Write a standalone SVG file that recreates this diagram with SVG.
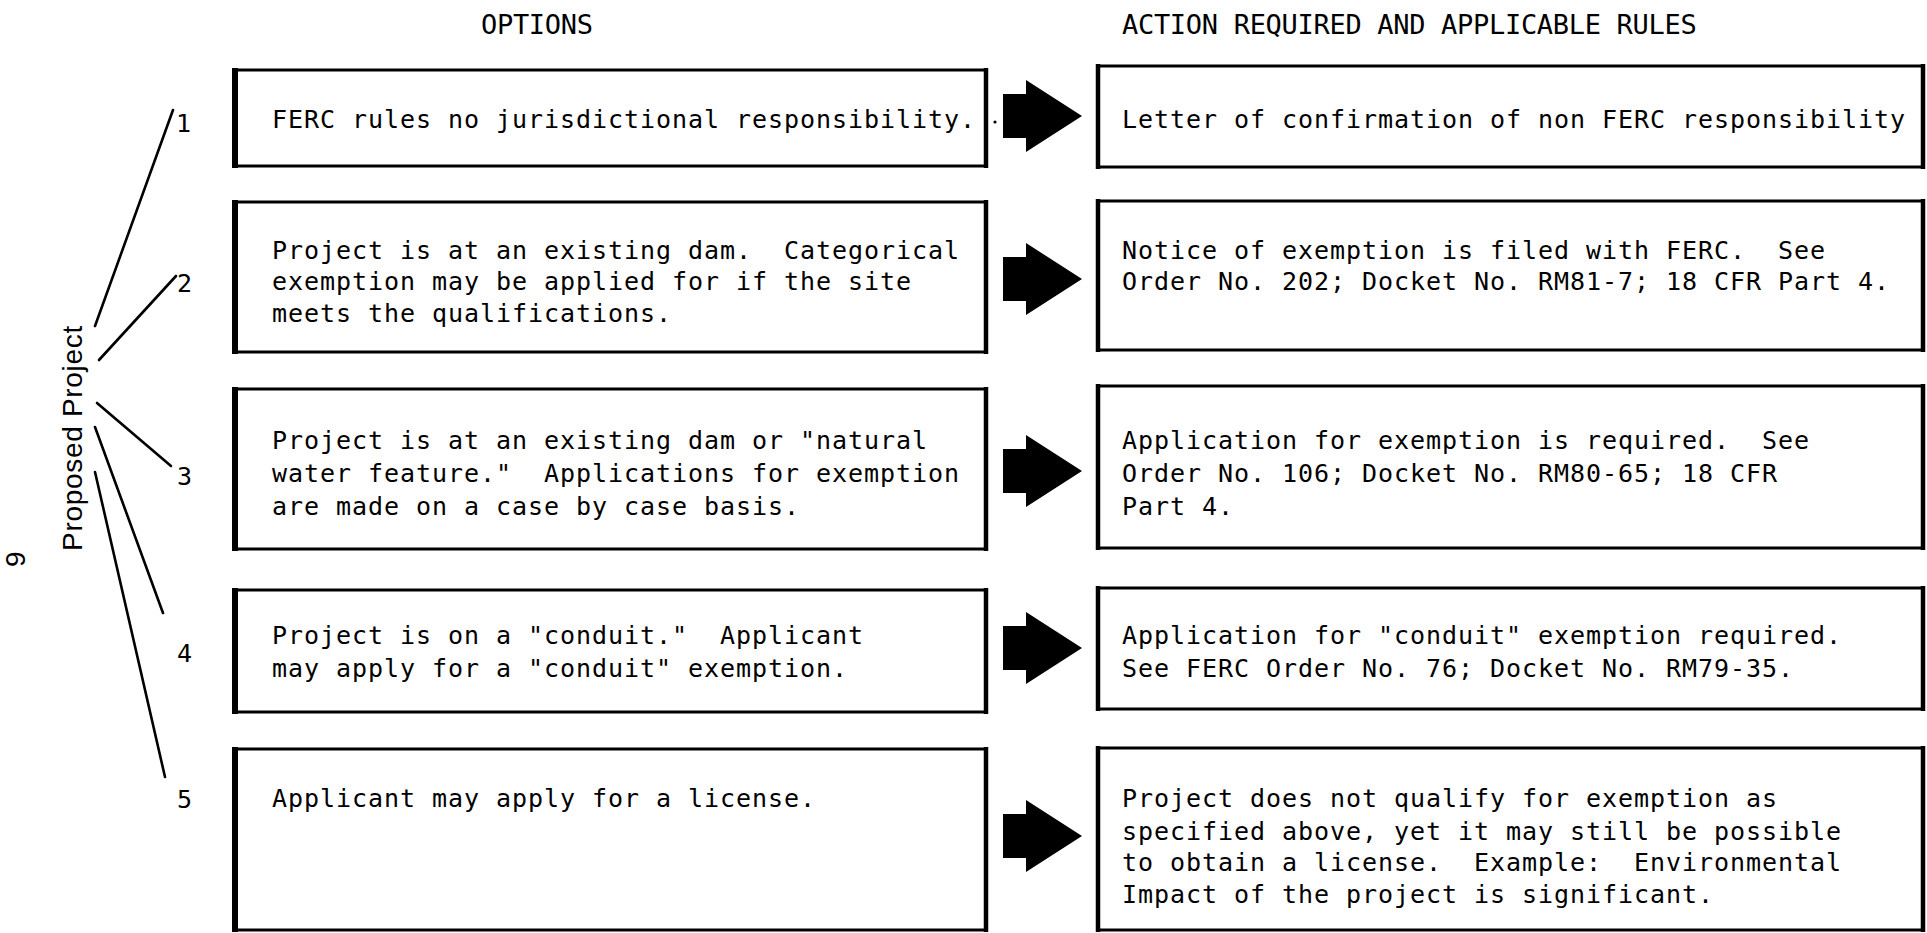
<svg xmlns="http://www.w3.org/2000/svg" xmlns:xlink="http://www.w3.org/1999/xlink" width="1927" height="933" viewBox="0 0 1927 933">
<style>
  .frame { fill: none; stroke: #000; stroke-width: 3; }
  .thickL { stroke: #000; stroke-width: 6; }
  .thickR { stroke: #000; stroke-width: 4.5; }
  .t { font-family: "DejaVu Sans Mono", "Liberation Mono", monospace; font-size: 25px; letter-spacing: 0.95px; fill: #000; white-space: pre; }
  .hdr { font-family: "DejaVu Sans Mono", "Liberation Mono", monospace; font-size: 27px; letter-spacing: -0.3px; fill: #000; white-space: pre; }
  .lbl { font-family: "Liberation Sans", Arial, sans-serif; font-size: 28px; letter-spacing: 0.7px; fill: #000; }
  .conn { stroke: #000; stroke-width: 2.6; stroke-linecap: round; fill: none; }
</style>
<defs>
  <path id="arrow" d="M1003,-22 L1026,-22 L1026,-36 L1082,0 L1026,36 L1026,22 L1003,22 Z" fill="#000"/>
</defs>
<rect width="1927" height="933" fill="#fff"/>

<g id="headers">
  <text class="hdr" x="481" y="34">OPTIONS</text>
  <text class="hdr" x="1122" y="34">ACTION REQUIRED AND APPLICABLE RULES</text>
</g>

<g id="proposed-project">
  <text class="lbl" transform="translate(82,551) rotate(-90)">Proposed Project</text>
</g>
<g id="page-number">
  <text class="lbl" font-size="24" transform="translate(25,567) rotate(-90)">9</text>
</g>

<g id="connectors">
  <line class="conn" x1="95" y1="326" x2="173" y2="110"/>
  <line class="conn" x1="99" y1="360" x2="176" y2="276"/>
  <line class="conn" x1="97" y1="403" x2="171" y2="466"/>
  <line class="conn" x1="95" y1="427" x2="163" y2="613"/>
  <line class="conn" x1="95" y1="472" x2="165" y2="777"/>
  <circle cx="995" cy="122" r="1.6" fill="#000"/>
  <use xlink:href="#arrow" href="#arrow" transform="translate(0,116)"/>
  <use xlink:href="#arrow" href="#arrow" transform="translate(0,279)"/>
  <use xlink:href="#arrow" href="#arrow" transform="translate(0,471)"/>
  <use xlink:href="#arrow" href="#arrow" transform="translate(0,648)"/>
  <use xlink:href="#arrow" href="#arrow" transform="translate(0,836)"/>
</g>

<g id="numbers">
  <text class="t" x="176" y="132">1</text>
  <text class="t" x="177" y="292">2</text>
  <text class="t" x="177" y="485">3</text>
  <text class="t" x="177" y="662">4</text>
  <text class="t" x="177" y="808">5</text>
</g>

<!-- Option boxes -->
<g id="option-1">
  <rect class="frame" x="235" y="70" width="751" height="96"/>
  <line class="thickL" x1="235" y1="68" x2="235" y2="168"/>
  <line class="thickR" x1="986" y1="68" x2="986" y2="168"/>
  <text class="t" x="272" y="128">FERC rules no jurisdictional responsibility.</text>
</g>
<g id="option-2">
  <rect class="frame" x="235" y="202" width="751" height="150"/>
  <line class="thickL" x1="235" y1="200" x2="235" y2="354"/>
  <line class="thickR" x1="986" y1="200" x2="986" y2="354"/>
  <text class="t" x="272" y="259">Project is at an existing dam.  Categorical</text>
  <text class="t" x="272" y="290">exemption may be applied for if the site</text>
  <text class="t" x="272" y="322">meets the qualifications.</text>
</g>
<g id="option-3">
  <rect class="frame" x="235" y="389" width="751" height="160"/>
  <line class="thickL" x1="235" y1="387" x2="235" y2="551"/>
  <line class="thickR" x1="986" y1="387" x2="986" y2="551"/>
  <text class="t" x="272" y="449">Project is at an existing dam or "natural</text>
  <text class="t" x="272" y="482">water feature."  Applications for exemption</text>
  <text class="t" x="272" y="515">are made on a case by case basis.</text>
</g>
<g id="option-4">
  <rect class="frame" x="235" y="590" width="751" height="122"/>
  <line class="thickL" x1="235" y1="588" x2="235" y2="714"/>
  <line class="thickR" x1="986" y1="588" x2="986" y2="714"/>
  <text class="t" x="272" y="644">Project is on a "conduit."  Applicant</text>
  <text class="t" x="272" y="677">may apply for a "conduit" exemption.</text>
</g>
<g id="option-5">
  <rect class="frame" x="235" y="749" width="751" height="181"/>
  <line class="thickL" x1="235" y1="747" x2="235" y2="932"/>
  <line class="thickR" x1="986" y1="747" x2="986" y2="932"/>
  <text class="t" x="272" y="807">Applicant may apply for a license.</text>
</g>

<!-- Action boxes -->
<g id="action-1">
  <rect class="frame" x="1098" y="66" width="825" height="101"/>
  <line class="thickR" x1="1098" y1="64" x2="1098" y2="169"/>
  <line class="thickR" x1="1923" y1="64" x2="1923" y2="169"/>
  <text class="t" x="1122" y="128">Letter of confirmation of non FERC responsibility</text>
</g>
<g id="action-2">
  <rect class="frame" x="1098" y="201" width="825" height="149"/>
  <line class="thickR" x1="1098" y1="199" x2="1098" y2="352"/>
  <line class="thickR" x1="1923" y1="199" x2="1923" y2="352"/>
  <text class="t" x="1122" y="259">Notice of exemption is filed with FERC.  See</text>
  <text class="t" x="1122" y="290">Order No. 202; Docket No. RM81-7; 18 CFR Part 4.</text>
</g>
<g id="action-3">
  <rect class="frame" x="1098" y="386" width="825" height="162"/>
  <line class="thickR" x1="1098" y1="384" x2="1098" y2="550"/>
  <line class="thickR" x1="1923" y1="384" x2="1923" y2="550"/>
  <text class="t" x="1122" y="449">Application for exemption is required.  See</text>
  <text class="t" x="1122" y="482">Order No. 106; Docket No. RM80-65; 18 CFR</text>
  <text class="t" x="1122" y="515">Part 4.</text>
</g>
<g id="action-4">
  <rect class="frame" x="1098" y="588" width="825" height="121"/>
  <line class="thickR" x1="1098" y1="586" x2="1098" y2="711"/>
  <line class="thickR" x1="1923" y1="586" x2="1923" y2="711"/>
  <text class="t" x="1122" y="644">Application for "conduit" exemption required.</text>
  <text class="t" x="1122" y="677">See FERC Order No. 76; Docket No. RM79-35.</text>
</g>
<g id="action-5">
  <rect class="frame" x="1098" y="748" width="825" height="182"/>
  <line class="thickR" x1="1098" y1="746" x2="1098" y2="932"/>
  <line class="thickR" x1="1923" y1="746" x2="1923" y2="932"/>
  <text class="t" x="1122" y="807">Project does not qualify for exemption as</text>
  <text class="t" x="1122" y="840">specified above, yet it may still be possible</text>
  <text class="t" x="1122" y="871">to obtain a license.  Example:  Environmental</text>
  <text class="t" x="1122" y="903">Impact of the project is significant.</text>
</g>
</svg>
